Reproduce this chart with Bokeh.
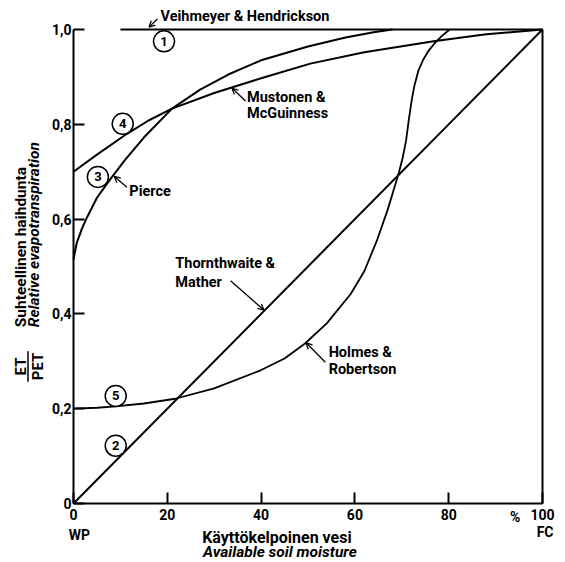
import math
from bokeh.plotting import figure
from bokeh.models import Range1d, FixedTicker, LinearAxis, Arrow, OpenHead
from bokeh.core.properties import value
from bokeh.embed import file_html
from bokeh.resources import INLINE

# Relative evapotranspiration (ET/PET) against available soil moisture (% between WP and FC)
veihmeyer_x = [10, 100]
veihmeyer_y = [1.0, 1.0]

thornthwaite_x = [0, 100]
thornthwaite_y = [0.0, 1.0]

pierce_x = [0, 0.7, 1.8, 2.9, 5, 7.9, 11, 15, 21, 27, 33, 40, 50, 58, 64, 68]
pierce_y = [0.515, 0.55, 0.58, 0.604, 0.645, 0.685, 0.725, 0.772, 0.833, 0.873,
            0.905, 0.935, 0.964, 0.983, 0.994, 1.0]

mustonen_x = [0, 5, 11.4, 16, 21, 30, 40, 50.5, 62, 76.8, 88, 100]
mustonen_y = [0.70, 0.736, 0.78, 0.808, 0.833, 0.866, 0.897, 0.928, 0.952, 0.975, 0.99, 1.0]

holmes_x = [0, 5, 9, 15, 21.7, 30, 39.9, 45, 49.3, 54, 59.1, 62, 64.7, 67, 69.4,
            70.2, 70.9, 71.5, 72.1, 72.7, 73.5, 74.5, 75.7, 77.0, 78.5, 80.2]
holmes_y = [0.2, 0.202, 0.205, 0.211, 0.221, 0.243, 0.281, 0.306, 0.337, 0.38, 0.442,
            0.49, 0.555, 0.62, 0.699, 0.73, 0.765, 0.81, 0.85, 0.882, 0.912, 0.935,
            0.955, 0.971, 0.986, 1.0]

x_ticks = [0, 20, 40, 60, 80, 100]
x_tick_labels = ["0", "20", "40", "60", "80", "100"]
y_ticks = [0, 0.2, 0.4, 0.6, 0.8, 1.0]
y_tick_labels = ["0", "0,2", "0,4", "0,6", "0,8", "1,0"]

curve_numbers = ["1", "2", "3", "4", "5"]
number_x = [19.3, 9.0, 5.2, 10.5, 9.0]
number_y = [0.975, 0.122, 0.689, 0.801, 0.227]

FONT = "Roboto"

# canvas and where the 0..100 / 0..1 box sits inside it (pixels)
W, H = 565, 562
BOX_LEFT, BOX_RIGHT, BOX_TOP, BOX_BOTTOM = 73, 542, 29, 503
sx = (BOX_RIGHT - BOX_LEFT) / 100.0
sy = (BOX_BOTTOM - BOX_TOP) / 1.0
LIFT = 5  # px the free-standing texts are raised off their baseline anchor

p = figure(width=W, height=H,
           x_range=Range1d(-BOX_LEFT / sx, (W - BOX_LEFT) / sx),
           y_range=Range1d(-(H - BOX_BOTTOM) / sy, BOX_BOTTOM / sy),
           x_axis_location=None, y_axis_location=None,
           output_backend="svg", toolbar_location=None,
           min_border=0, min_border_left=0, min_border_right=0,
           min_border_top=0, min_border_bottom=0)
p.xgrid.visible = False
p.ygrid.visible = False
p.outline_line_color = None
p.background_fill_color = "white"
p.border_fill_color = "white"


def make_axis(ticks, labels, bounds, standoff, loc):
    ax = LinearAxis(fixed_location=loc)
    ax.ticker = FixedTicker(ticks=ticks)
    ax.major_label_overrides = {t: s for t, s in zip(ticks, labels)}
    ax.bounds = bounds
    ax.axis_line_width = 2
    ax.axis_line_color = "black"
    ax.major_tick_in = 11
    ax.major_tick_out = 0
    ax.major_tick_line_width = 2
    ax.major_tick_line_color = "black"
    ax.minor_tick_line_color = None
    ax.major_label_standoff = standoff
    ax.major_label_text_font = FONT
    ax.major_label_text_font_style = "bold"
    ax.major_label_text_font_size = "14px"
    ax.major_label_text_color = "black"
    return ax


p.add_layout(make_axis(x_ticks, x_tick_labels, (0, 100), 5, 0), "below")
p.add_layout(make_axis(y_ticks, y_tick_labels, (0, 1), 2, 0), "left")

# right-hand border of the diagram (FC)
right = LinearAxis(fixed_location=100, bounds=(0, 1), axis_line_width=2,
                   axis_line_color="black", major_tick_line_color=None,
                   minor_tick_line_color=None, major_label_text_color=None)
p.add_layout(right, "right")

# curves
p.line(veihmeyer_x, veihmeyer_y, line_width=2.2, color="black")
p.line(thornthwaite_x, thornthwaite_y, line_width=2, color="black")
p.line(pierce_x, pierce_y, line_width=2, color="black")
p.line(mustonen_x, mustonen_y, line_width=2, color="black")
p.line(holmes_x, holmes_y, line_width=1.8, color="black")

# circled curve numbers
p.scatter(number_x, number_y, marker="circle", size=21, fill_color="white",
          line_color="black", line_width=1.5)
p.text(number_x, number_y, text=curve_numbers, text_align="center",
       text_baseline="middle", text_font=value(FONT), text_font_size="13px",
       text_font_style="bold", text_color="black")


def label(x, y, text, size="14.5px", align="left", style="bold", rotated=False):
    if rotated:
        x, angle = x - LIFT / sx, math.pi / 2
    else:
        y, angle = y + LIFT / sy, 0.0
    p.text([x], [y], text=[text], text_font=value(FONT), text_font_size=size,
           text_align=align, text_baseline="alphabetic", angle=angle,
           text_font_style=style, text_color="black")


def pointer(x0, y0, x1, y1):
    p.add_layout(Arrow(x_start=x0, y_start=y0, x_end=x1, y_end=y1,
                       line_width=1.3, line_color="black",
                       end=OpenHead(size=6, line_width=1.3, line_color="black")))


# curve names
label(18.55, 1.016, "Veihmeyer & Hendrickson")
pointer(17.9, 1.022, 16.1, 1.005)

label(37.0, 0.847, "Mustonen &")
label(37.0, 0.812, "McGuinness")
pointer(36.7, 0.849, 33.8, 0.876)

label(11.9, 0.648, "Pierce")
pointer(11.4, 0.667, 8.7, 0.690)

label(21.7, 0.495, "Thornthwaite &")
label(21.7, 0.456, "Mather")
pointer(33.5, 0.470, 40.6, 0.408)

label(54.4, 0.309, "Holmes &")
label(54.4, 0.272, "Robertson")
pointer(53.7, 0.298, 49.6, 0.339)

# axis annotations
label(95.3, -0.0395, "%", size="14px", align="right")
label(-1.0, -0.078, "WP", size="14px")
label(102.35, -0.071, "FC", size="14px", align="right")
label(27.44, -0.0823, "Käyttökelpoinen  vesi", size="16px")
label(27.6, -0.1139, "Available  soil  moisture", size="15.5px", style="bold italic")

label(-10.23, 0.372, "Suhteellinen  haihdunta", size="15.5px", rotated=True)
label(-7.25, 0.372, "Relative  evapotranspiration", size="15.5px",
      style="bold italic", rotated=True)
label(-10.23, 0.289, "ET", size="15px", align="center", rotated=True)
label(-6.46, 0.289, "PET", size="15px", align="center", rotated=True)
p.add_layout(Arrow(x_start=-9.7, y_start=0.257, x_end=-9.7, y_end=0.321,
                   line_width=1.5, line_color="black", end=None))

open("out.html", "w").write(file_html(p, INLINE))
